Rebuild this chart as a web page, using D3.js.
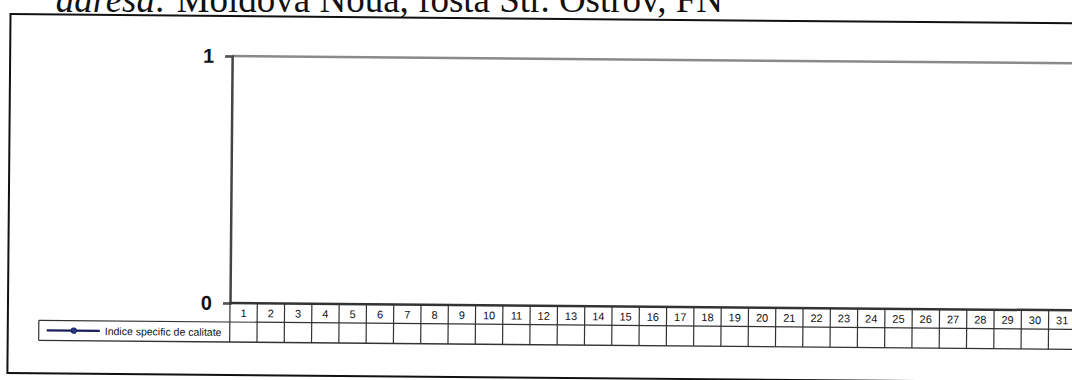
<!DOCTYPE html>
<html>
<head>
<meta charset="utf-8">
<script src="https://cdn.jsdelivr.net/npm/d3@7"></script>
<style>
  body { margin: 0; background: #fff; }
  svg { display: block; }
</style>
</head>
<body>
<div id="chart-container"></div>
<script>
// Chart data (the table in the scan is empty: no values recorded)
const days = d3.range(1, 32)
const values = days.map(() => null)
const yTicks = [0, 1]
const seriesName = "Indice specific de calitate"

const W = 1072, H = 380
const plot = { left: 230, right: 1076, top: 56, bottom: 303 }
const rowH = [19, 20] // header row, series row

const svg = d3.select("#chart-container")
  .append("svg")
  .attr("width", W)
  .attr("height", H)

// heading above the frame (cut off by the scan)
const head = svg.append("text")
  .attr("x", 723)
  .attr("y", 12)
  .attr("text-anchor", "end")
  .style("font-family", "'Liberation Serif', 'Times New Roman', serif")
  .style("font-size", "37px")
  .style("fill", "#111")
head.append("tspan").style("font-style", "italic").text("adresa: ")
head.append("tspan").text("Moldova Noua, fosta Str. Ostrov, FN")

// the scan is slightly rotated
const g = svg.append("g")
  .attr("transform", `rotate(0.5, ${plot.left}, ${plot.bottom})`)

// outer chart frame
g.append("rect")
  .attr("x", 8)
  .attr("y", 16)
  .attr("width", W + 40)
  .attr("height", 359)
  .attr("fill", "none")
  .attr("stroke", "#111")
  .attr("stroke-width", 2)

// scales
const x = d3.scaleBand()
  .domain(days)
  .range([plot.left, plot.right])
  .padding(0)

const y = d3.scaleLinear()
  .domain([0, 1])
  .range([plot.bottom, plot.top])

// plot area top border
g.append("line")
  .attr("x1", plot.left).attr("x2", plot.right + 10)
  .attr("y1", plot.top).attr("y2", plot.top)
  .attr("stroke", "#8a8a8a")
  .attr("stroke-width", 2.5)

// y axis
const yAxis = g.append("g")
  .attr("transform", `translate(${plot.left},0)`)
  .call(d3.axisLeft(y).tickValues(yTicks).tickFormat(d3.format("d")).tickSize(7).tickPadding(11))
yAxis.select(".domain").attr("stroke", "#444").attr("stroke-width", 2.5)
yAxis.selectAll(".tick line").attr("stroke", "#555").attr("stroke-width", 1.2)
yAxis.selectAll("text")
  .style("font-family", "Arial, 'Liberation Sans', sans-serif")
  .style("font-size", "20px")
  .style("font-weight", "bold")
  .style("fill", "#111")

// series line (no defined values)
const line = d3.line()
  .defined(d => d != null)
  .x((d, i) => x(days[i]) + x.bandwidth() / 2)
  .y(d => y(d))
g.append("path")
  .datum(values)
  .attr("fill", "none")
  .attr("stroke", "#1a1f5c")
  .attr("stroke-width", 2)
  .attr("d", line)

// data table
const table = g.append("g")
const t0 = plot.bottom, t1 = t0 + rowH[0], t2 = t1 + rowH[1]

table.append("line")
  .attr("x1", plot.left).attr("x2", plot.right)
  .attr("y1", t0).attr("y2", t0)
  .attr("stroke", "#333").attr("stroke-width", 2.5)

table.append("line")
  .attr("x1", 39).attr("x2", plot.right)
  .attr("y1", t1).attr("y2", t1)
  .attr("stroke", "#333").attr("stroke-width", 1.2)

table.append("line")
  .attr("x1", 39).attr("x2", plot.right)
  .attr("y1", t2).attr("y2", t2)
  .attr("stroke", "#333").attr("stroke-width", 1.4)

table.append("line")
  .attr("x1", 39).attr("x2", 39)
  .attr("y1", t1).attr("y2", t2)
  .attr("stroke", "#333").attr("stroke-width", 1.2)

table.selectAll(".col")
  .data(days)
  .enter().append("line")
  .attr("class", "col")
  .attr("x1", d => x(d)).attr("x2", d => x(d))
  .attr("y1", t0).attr("y2", t2)
  .attr("stroke", "#333").attr("stroke-width", 1.2)

table.selectAll(".day")
  .data(days)
  .enter().append("text")
  .attr("class", "day")
  .attr("x", d => x(d) + x.bandwidth() / 2)
  .attr("y", t0 + 14)
  .attr("text-anchor", "middle")
  .style("font-family", "Arial, 'Liberation Sans', sans-serif")
  .style("font-size", "11px")
  .style("fill", "#111")
  .text(d => d)

table.selectAll(".val")
  .data(values)
  .enter().append("text")
  .attr("class", "val")
  .attr("x", (d, i) => x(days[i]) + x.bandwidth() / 2)
  .attr("y", t1 + 14)
  .attr("text-anchor", "middle")
  .style("font-family", "Arial, 'Liberation Sans', sans-serif")
  .style("font-size", "11px")
  .text(d => d == null ? "" : d)

// legend key in the table
const ly = (t1 + t2) / 2
table.append("line")
  .attr("x1", 47).attr("x2", 100)
  .attr("y1", ly).attr("y2", ly)
  .attr("stroke", "#1a1f5c").attr("stroke-width", 2.2)
table.append("circle")
  .attr("cx", 74).attr("cy", ly).attr("r", 2.6)
  .attr("fill", "#2a3a8a").attr("stroke", "#1a1f5c")
table.append("text")
  .attr("x", 105)
  .attr("y", ly + 4)
  .style("font-family", "Arial, 'Liberation Sans', sans-serif")
  .style("font-size", "10.5px")
  .style("fill", "#111")
  .text(seriesName)
</script>
</body>
</html>
